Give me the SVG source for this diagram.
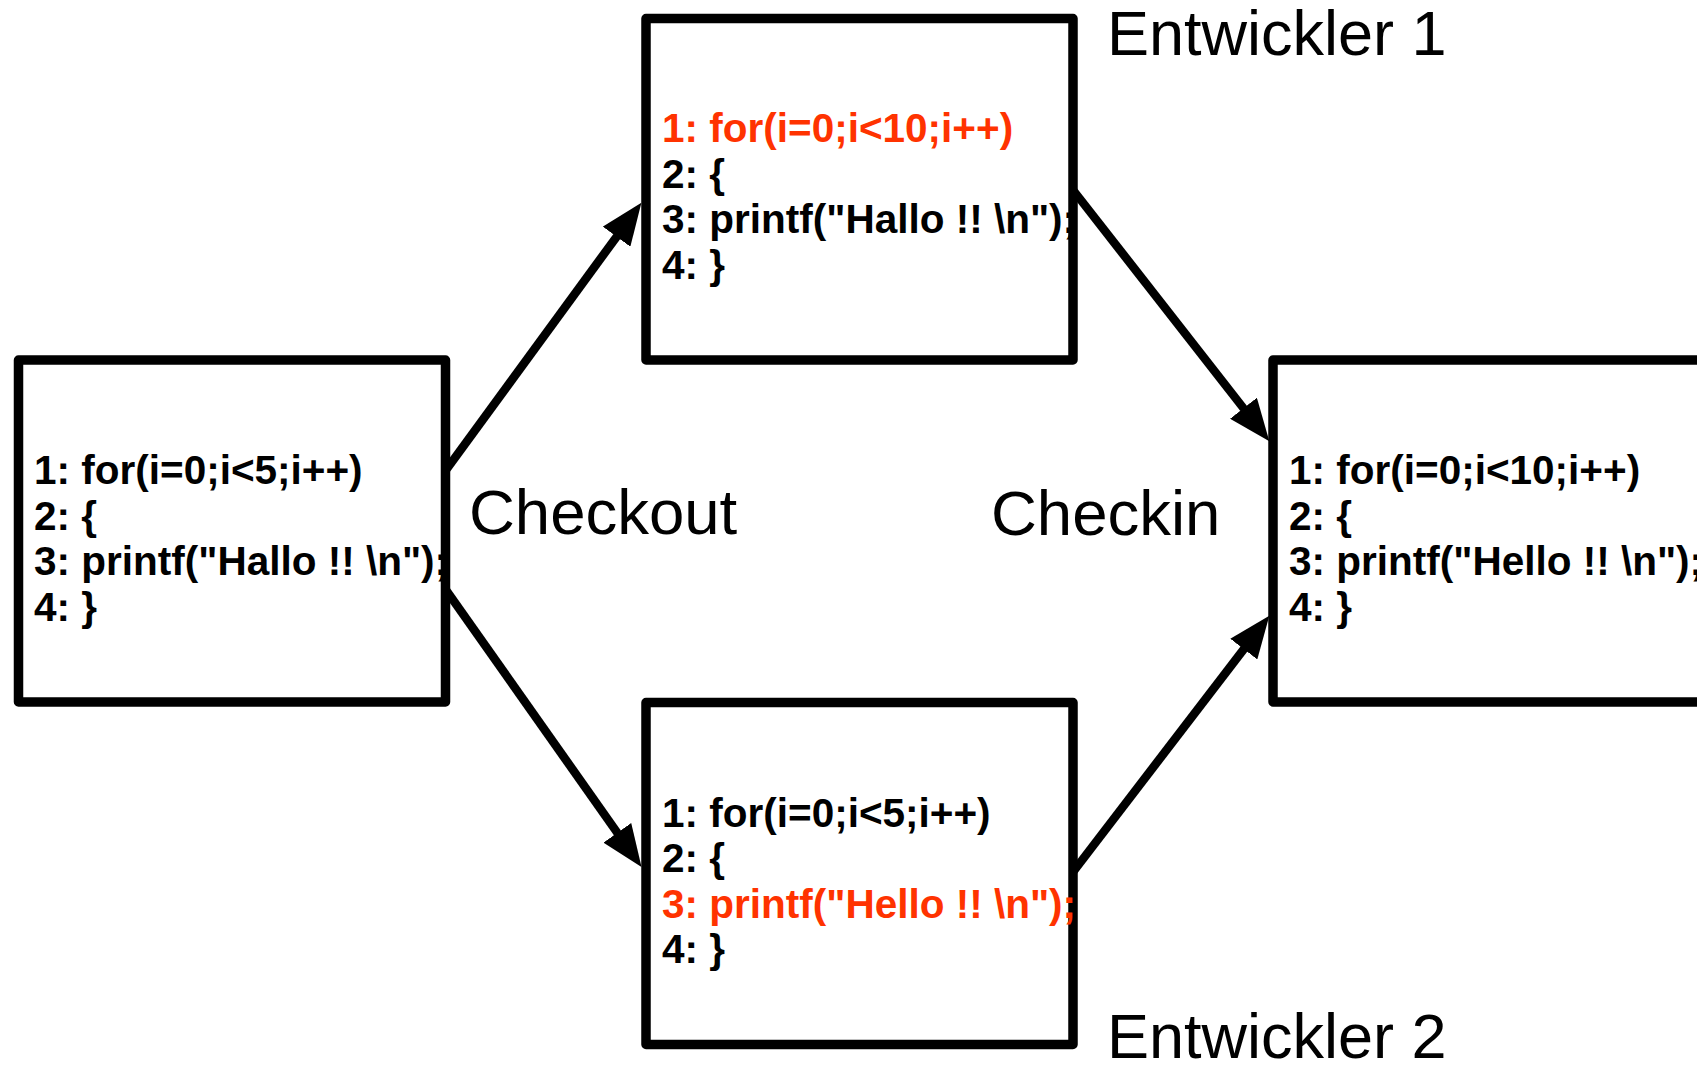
<svg xmlns="http://www.w3.org/2000/svg" width="1697" height="1065" viewBox="0 0 1697 1065">
  <style>
    .box { fill: #ffffff; stroke: #000000; stroke-width: 9.5; stroke-linejoin: round; }
    .code { font-family: "Liberation Sans", Arial, Helvetica, sans-serif; font-weight: bold; font-size: 40.5px; fill: #000000; }
    .hl { fill: #ff3300; }
    .label { font-family: "Liberation Sans", Arial, Helvetica, sans-serif; font-size: 63.5px; fill: #000000; }
    .dev { font-family: "Liberation Sans", Arial, Helvetica, sans-serif; font-size: 63px; fill: #000000; }
    .conn { stroke: #000000; stroke-width: 8.5; fill: none; marker-end: url(#arrow); }
  </style>
  <defs>
    <marker id="arrow" viewBox="0 0 42 34" refX="1" refY="17" markerWidth="42" markerHeight="34" markerUnits="userSpaceOnUse" orient="auto">
      <path d="M0,0 L42,17 L0,34 z" fill="#000000"/>
    </marker>
  </defs>
  <rect width="1697" height="1065" fill="#ffffff"/>

  <g id="connectors">
    <line class="conn" x1="446" y1="470" x2="617.2" y2="235.9"/>
    <line class="conn" x1="1073" y1="190" x2="1244.1" y2="409"/>
    <line class="conn" x1="446" y1="590" x2="617.9" y2="833.6"/>
    <line class="conn" x1="1073" y1="872" x2="1244.4" y2="648.3"/>
  </g>

  <g id="node-original">
    <rect class="box" x="18.5" y="360" width="427" height="342"/>
    <text class="code" x="34" y="484">1: for(i=0;i&lt;5;i++)</text>
    <text class="code" x="34" y="529.5">2: {</text>
    <text class="code" x="34" y="575">3: printf("Hallo !! \n");</text>
    <text class="code" x="34" y="620.5">4: }</text>
  </g>

  <g id="node-dev1">
    <rect class="box" x="646" y="18.5" width="427" height="341.5"/>
    <text class="code hl" x="662" y="142">1: for(i=0;i&lt;10;i++)</text>
    <text class="code" x="662" y="187.5">2: {</text>
    <text class="code" x="662" y="233">3: printf("Hallo !! \n");</text>
    <text class="code" x="662" y="278.5">4: }</text>
  </g>

  <g id="node-dev2">
    <rect class="box" x="646" y="702.5" width="427" height="342"/>
    <text class="code" x="662" y="826.5">1: for(i=0;i&lt;5;i++)</text>
    <text class="code" x="662" y="872">2: {</text>
    <text class="code hl" x="662" y="917.5">3: printf("Hello !! \n");</text>
    <text class="code" x="662" y="963">4: }</text>
  </g>

  <g id="node-merged">
    <rect class="box" x="1273" y="360" width="440" height="342"/>
    <text class="code" x="1289" y="484">1: for(i=0;i&lt;10;i++)</text>
    <text class="code" x="1289" y="529.5">2: {</text>
    <text class="code" x="1289" y="575">3: printf("Hello !! \n");</text>
    <text class="code" x="1289" y="620.5">4: }</text>
  </g>

  <g id="label-checkout">
    <text class="label" x="469" y="534">Checkout</text>
  </g>
  <g id="label-checkin">
    <text class="label" x="991" y="535">Checkin</text>
  </g>
  <g id="label-dev1">
    <text class="dev" x="1107" y="55">Entwickler 1</text>
  </g>
  <g id="label-dev2">
    <text class="dev" x="1107" y="1058">Entwickler 2</text>
  </g>
</svg>
